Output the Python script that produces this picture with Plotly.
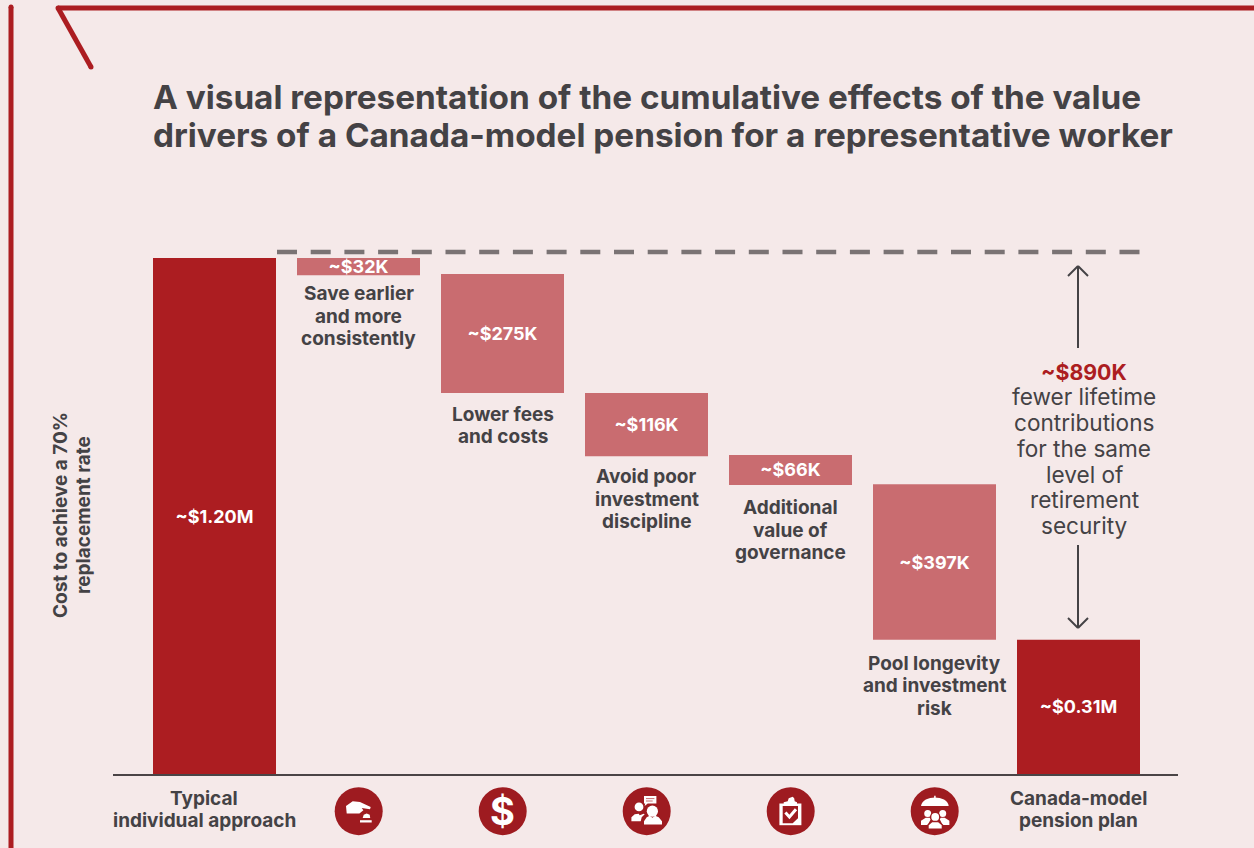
import re
import plotly.graph_objects as go

W, H = 1254, 848
BG, RED, PINK, INK, ICON = "#F5E9E9", "#AC1D21", "#C96C70", "#444245", "#9E1B20"
FONT = "Inter"

categories = ["Typical individual approach", "Save earlier and more consistently", "Lower fees and costs",
              "Avoid poor investment discipline", "Additional value of governance",
              "Pool longevity and investment risk", "Canada-model pension plan"]
bar_tops = [1.200, 1.200, 1.163, 0.886, 0.742, 0.674, 0.312]
bar_bottoms = [0.0, 1.160, 0.886, 0.739, 0.672, 0.312, 0.0]
bar_labels = ["~$1.20M", "~$32K", "~$275K", "~$116K", "~$66K", "~$397K", "~$0.31M"]
category_lines = [["Typical", "individual approach"], [], [], [], [], [], ["Canada-model", "pension plan"]]
category_y = [[798.5, 820.5], [], [], [], [], [], [798.5, 820.5]]
driver_notes = [[], ["Save earlier", "and more", "consistently"], ["Lower fees", "and costs"],
                ["Avoid poor", "investment", "discipline"], ["Additional", "value of", "governance"],
                ["Pool longevity", "and investment", "risk"], []]
note_y = [[], [293.5, 316, 338.5], [414.5, 436.5], [476.5, 499, 521.5], [507.5, 530, 552.5], [663.5, 685.5, 708], []]
title_lines = ["A visual representation of the cumulative effects of the value",
               "drivers of a Canada-model pension for a representative worker"]
side_lines = ["fewer lifetime", "contributions", "for the same", "level of", "retirement", "security"]
side_y = [396.5, 422.5, 448.5, 474.5, 499.5, 525.5]
axis_title_lines = ["Cost to achieve a 70%", "replacement rate"]
axis_title_x = [60, 83]


def X(p): return p / W
def Y(p): return 1 - p / H


def abs_path(d, cx=0, cy=0):
    toks = re.findall(r"[MLCQZ]|-?\d+\.?\d*", d)
    res, is_x, i = "", True, 0
    for t in toks:
        if t in "MLCQZ":
            res += t
            is_x, i = True, 0
        else:
            v = f"{X(float(t)+cx):.5f}" if is_x else f"{Y(float(t)+cy):.5f}"
            res += ("," if i % 2 else " ") + v
            is_x = not is_x
            i += 1
    return res


shapes = []
def line(x0, y0, x1, y1, color, width, dash="solid"):
    shapes.append(dict(type="line", xref="paper", yref="paper", x0=X(x0), y0=Y(y0), x1=X(x1), y1=Y(y1),
                       line=dict(color=color, width=width, dash=dash), layer="above"))
def blob(d, cx, cy, fill="white"):
    shapes.append(dict(type="path", xref="paper", yref="paper", path=abs_path(d, cx, cy), fillcolor=fill,
                       line=dict(width=0), layer="above"))
def stroke(d, cx, cy, color="white", width=1.6):
    shapes.append(dict(type="path", xref="paper", yref="paper", path=abs_path(d, cx, cy),
                       line=dict(color=color, width=width), layer="above"))
def disc(cx, cy, r, fill="white"):
    shapes.append(dict(type="circle", xref="paper", yref="paper", x0=X(cx-r), x1=X(cx+r), y0=Y(cy+r), y1=Y(cy-r),
                       fillcolor=fill, line=dict(width=0), layer="above"))


# frame with rounded ends
line(11, 7, 11, 848, RED, 5)
line(58, 8, 1254, 8, RED, 5)
line(58, 8, 91, 67, RED, 5)
for px, py in [(11, 7), (58, 8), (91, 67)]:
    disc(px, py, 2.5, RED)
# reference line and arrows
line(277, 252, 1140, 252, "#7A7374", 4.4, "20px,13.7px")
line(1078, 266, 1078, 348, INK, 2)
line(1068, 276, 1078, 266, INK, 2)
line(1088, 276, 1078, 266, INK, 2)
line(1078, 545, 1078, 628, INK, 2)
line(1068, 618, 1078, 628, INK, 2)
line(1088, 618, 1078, 628, INK, 2)

# icons
cy = 811.2
icon_x = [358.7, 502.7, 646.7, 790.7, 934.7]
for c in icon_x:
    disc(c, cy, 24, ICON)
# hand
c = icon_x[0]
blob("M-12.7 -5.3 L-6 -10 L1.3 -9.3 L12 -4.3 L11.3 -2 L3 -3.3 L4.7 -1 L0.7 2.3 L-12 2.3 Z", c, cy)
blob("M4 6.7 L5 3.5 L8 2.3 L11 3.5 L11.5 6.7 Z", c, cy)
blob("M1.3 9 L13 9 L13 11.3 L1.3 11.3 Z", c, cy)
# person pair + speech bubble
c = icon_x[2]
blob("M-2.7 -15.3 L9.7 -15.3 L9.7 -7.7 L1 -7.7 L-2 -5.3 L-1.5 -7.7 L-2.7 -7.7 Z", c, cy)
stroke("M-0.7 -12.6 L7.7 -12.6", c, cy, PINK, 1)
stroke("M-0.7 -10.2 L6 -10.2", c, cy, PINK, 1)
disc(c-7.7, cy-4.3, 4.4)
blob("M-15.3 10 L-15.3 6 L-12 3 L-8 2.5 L-7 4 L-3 2.5 L-2 3 L-5 6 L-6 10 Z", c, cy)
disc(c+5.7, cy, 5.6)
blob("M-2.7 13.3 L-2.7 10 L0 6 L3 4.5 L5.7 6.5 L8.5 4.5 L12 6 L15.3 10 L15.3 13.3 Z", c, cy)
# clipboard
c = icon_x[3]
blob("M-11.3 -7.7 L10.7 -7.7 L10.7 14 L-11.3 14 Z", c, cy)
blob("M-8 -5.3 L7.3 -5.3 L7.3 7 L2 12 L-8 12 Z", c, cy, ICON)
blob("M-7 -5.3 L-7 -9 L-3 -10 L-2 -13 L2 -14.5 L3.5 -13 L4 -10 L6.3 -9 L6.3 -5.3 Z", c, cy)
stroke("M-5.3 1.3 L-1.3 5.7 L5.3 -2", c, cy, "white", 3)
# umbrella and people
c = icon_x[4]
blob("M-13.7 -5.3 C-13 -11 -6 -13.7 0.2 -13.7 C6.5 -13.7 13.5 -11 14 -5.3 Z", c, cy)
stroke("M0.2 -15.5 L0.2 -13", c, cy, "white", 1.5)
disc(c-7, cy+2.3, 3.5); disc(c+8, cy+2.3, 3.5)
blob("M-13.7 13.7 L-13.7 9.5 L-9 6.5 L-5 6.5 L-4 8 L-7 13.7 Z", c, cy)
blob("M14.7 13.7 L14.7 9.5 L10 6.5 L6 6.5 L5 8 L8 13.7 Z", c, cy)
disc(c+0.5, cy+5.7, 5.2, ICON)
blob("M-8 19 L-8 14 L-3 9.5 L4 9.5 L9 14 L9 19 Z", c, cy, ICON)
disc(c+0.5, cy+5.7, 3.9)
blob("M-6 17.3 L-6 14 L-2.5 11 L3.5 11 L7 14 L7 17.3 Z", c, cy)

annotations = []
def txt(x, y, s, size, color=INK, bold=True, anchor="center", angle=0, xref="paper"):
    annotations.append(dict(x=x if xref != "paper" else X(x), y=Y(y), xref=xref, yref="paper", text=s,
                            showarrow=False, xanchor=anchor, yanchor="middle", textangle=angle,
                            font=dict(family=FONT, size=size, color=color, weight=700 if bold else 400)))

txt(150.5, 97, title_lines[0], 33.3, anchor="left")
txt(150.5, 135, title_lines[1], 33.3, anchor="left")
for s, x in zip(axis_title_lines, axis_title_x):
    txt(x, 515, s, 19, angle=-90)
txt(1084, 372, "~$890K", 21.3, RED)
for s, y in zip(side_lines, side_y):
    txt(1084, y, s, 22.6, bold=False)
for i, (ls, ys) in enumerate(zip(driver_notes, note_y)):
    for s, y in zip(ls, ys):
        txt(i, y, s, 19, xref="x")
for i, (ls, ys) in enumerate(zip(category_lines, category_y)):
    for s, y in zip(ls, ys):
        txt(i - 0.07 if i == 0 else i, y, s, 19, xref="x")
txt(icon_x[1], 811, "$", 38, "white")

colors = [RED if b == 0 else PINK for b in bar_bottoms]
fig = go.Figure(go.Bar(
    x=list(range(len(categories))), y=[t - b for t, b in zip(bar_tops, bar_bottoms)], base=bar_bottoms,
    width=123 / 144, marker=dict(color=colors, line=dict(width=0)), text=bar_labels, textposition="inside",
    insidetextanchor="middle", textangle=0, constraintext="none", cliponaxis=False,
    customdata=categories, textfont=dict(family=FONT, size=18, color="white", weight=700), hoverinfo="skip"))

fig.update_layout(
    width=W, height=H, margin=dict(l=0, r=0, t=0, b=0), paper_bgcolor=BG, plot_bgcolor=BG, showlegend=False,
    shapes=shapes, annotations=annotations,
    xaxis=dict(range=[(113 - 214.5) / 144, (1178 - 214.5) / 144], domain=[113 / W, 1178 / W],
               showticklabels=False, ticks="", showgrid=False, zeroline=False, showline=True,
               linecolor="#4A4446", linewidth=2),
    yaxis=dict(domain=[(H - 774) / H, 1], range=[0, 774 / 430], visible=False, showgrid=False, zeroline=False),
)
fig.write_html("out.html", config={"displayModeBar": False},
               post_script="document.body.style.margin='0';document.body.style.overflow='hidden';")
